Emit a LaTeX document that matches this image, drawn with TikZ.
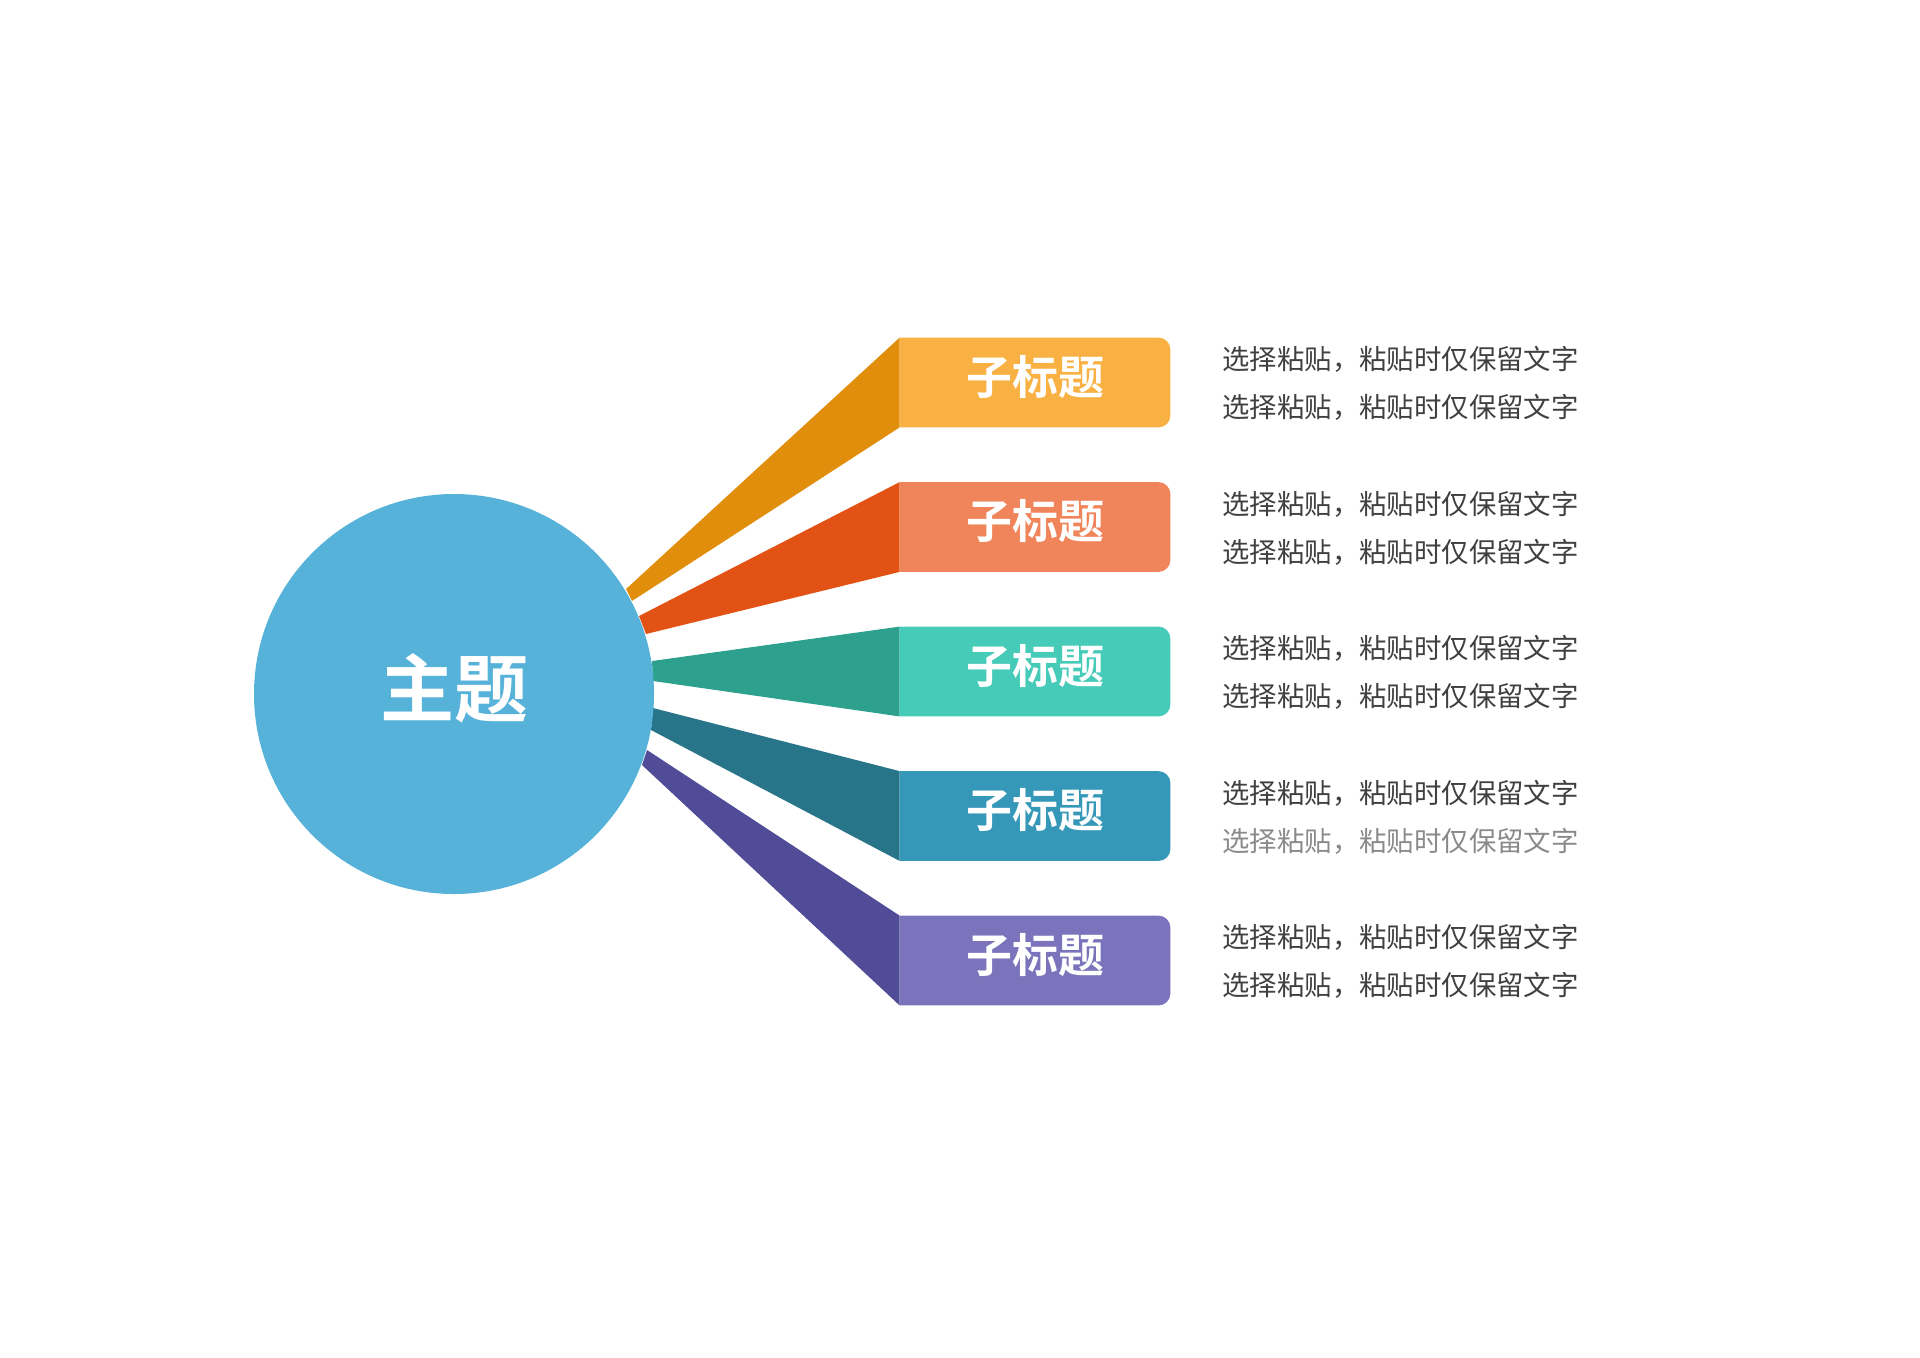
\documentclass[tikz,border=0pt]{standalone}
\usepackage{fontspec}
\newfontfamily\cjk{Noto Sans CJK SC}
\newfontfamily\cjkb{Noto Sans CJK SC Bold}
\definecolor{cmain}{HTML}{56B2D9}
\definecolor{oA}{HTML}{F8B142}\definecolor{oD}{HTML}{E08E0B}
\definecolor{rA}{HTML}{F0855B}\definecolor{rD}{HTML}{E35215}
\definecolor{gA}{HTML}{45CBB8}\definecolor{gD}{HTML}{2DA08E}
\definecolor{tA}{HTML}{3598B8}\definecolor{tD}{HTML}{287489}
\definecolor{pA}{HTML}{7B74BC}\definecolor{pD}{HTML}{504C98}
\definecolor{txt}{HTML}{404040}
\definecolor{txtl}{HTML}{8A8A8A}
\tikzset{
  subframe/.style={rectangle, minimum width=135pt, minimum height=44.5pt, inner sep=0pt},
  subtext/.style={inner sep=0pt, text=white, font=\cjkb\fontsize{23}{26}\selectfont, yshift=3pt},
  desc/.style={anchor=west, inner sep=0pt, font=\cjk\fontsize{13.7}{16}\selectfont, text=txt}
}
\begin{document}
\begin{tikzpicture}[x=0.5pt,y=-0.5pt]
\useasboundingbox (0,0) rectangle (1920,1357);
% sub box frames, centres
\node[subframe] (s1) at (1035,382.5) {};
\node[subframe] (s2) at (1035,527) {};
\node[subframe] (s3) at (1035,671.5) {};
\node[subframe] (s4) at (1035,816) {};
\node[subframe] (s5) at (1035,960.5) {};
% wedges
\fill[oD] (s1.north west) -- (s1.south west) -- (632,601) -- (626,589) -- cycle;
\fill[rD] (s2.north west) -- (s2.south west) -- (646,634) -- (639,616) -- cycle;
\fill[gD] (s3.north west) -- (s3.south west) -- (653,681) -- (652,661) -- cycle;
\fill[tD] (s4.north west) -- (s4.south west) -- (651,730) -- (653,708) -- cycle;
\fill[pD] (s5.north west) -- (s5.south west) -- (642,765) -- (647,750) -- cycle;
% box fills and titles
\foreach \n/\c in {s1/oA,s2/rA,s3/gA,s4/tA,s5/pA}{
  \fill[\c] (\n.south west) -- (\n.north west) [rounded corners=6pt] -- (\n.north east) -- (\n.south east) [sharp corners] -- (\n.south west) -- cycle;
  \node[subtext] (\n t) at (\n) {子标题};
}
% main circle
\node[circle, fill=cmain, minimum size=200pt, inner sep=0pt] (main) at (454,694) {};
\node[inner sep=0pt, text=white, font=\cjkb\fontsize{37}{40}\selectfont, yshift=3pt] (maint) at (main) {主题};
% descriptions
\node[desc] (d1a) at (1222,359.5) {选择粘贴，粘贴时仅保留文字};
\node[desc] (d1b) at (1222,407.5) {选择粘贴，粘贴时仅保留文字};
\node[desc] (d2a) at (1222,504) {选择粘贴，粘贴时仅保留文字};
\node[desc] (d2b) at (1222,552) {选择粘贴，粘贴时仅保留文字};
\node[desc] (d3a) at (1222,648.5) {选择粘贴，粘贴时仅保留文字};
\node[desc] (d3b) at (1222,696.5) {选择粘贴，粘贴时仅保留文字};
\node[desc] (d4a) at (1222,793) {选择粘贴，粘贴时仅保留文字};
\node[desc, text=txtl] (d4b) at (1222,841) {选择粘贴，粘贴时仅保留文字};
\node[desc] (d5a) at (1222,937.5) {选择粘贴，粘贴时仅保留文字};
\node[desc] (d5b) at (1222,985.5) {选择粘贴，粘贴时仅保留文字};
\end{tikzpicture}
\end{document}
